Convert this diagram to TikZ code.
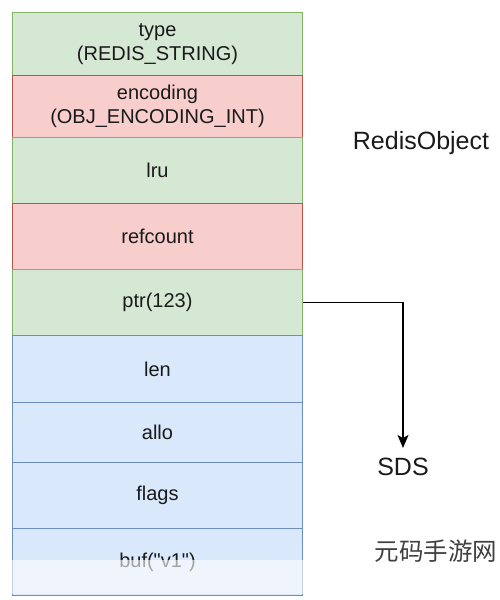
\documentclass[tikz,border=0pt]{standalone}
\usepackage{fontspec}
\setmainfont{Liberation Sans}
\newfontfamily\cjk{Noto Sans CJK SC}
\usetikzlibrary{arrows.meta}
\definecolor{gfill}{HTML}{D5E8D4}\definecolor{gline}{HTML}{82B366}
\definecolor{rfill}{HTML}{F8CECC}\definecolor{rline}{HTML}{B85450}
\definecolor{bfill}{HTML}{DAE8FC}\definecolor{bline}{HTML}{6C8EBF}
\definecolor{txt}{HTML}{1A1A1A}
\tikzset{
  cell/.style={draw, line width=1pt, anchor=north west, minimum width=290pt,
    inner sep=0pt, align=center, text=txt, font=\fontsize{20}{23.5}\selectfont},
  gcell/.style={cell, fill=gfill, draw=gline},
  rcell/.style={cell, fill=rfill, draw=rline},
  bcell/.style={cell, fill=bfill, draw=bline},
  lbl/.style={text=txt, inner sep=0pt, font=\fontsize{25}{29}\selectfont},
  link/.style={draw=black, line width=1.3pt, -{Stealth[length=13pt,width=11pt,inset=3pt]}}
}
\begin{document}
\begin{tikzpicture}[x=1pt,y=-1pt]
\useasboundingbox (0,0) rectangle (499,600);
\node[gcell, minimum height=63pt] (type) at (12,12) {type\\(REDIS\_STRING)};
\node[rcell, minimum height=62pt] (enc) at (12,75) {encoding\\(OBJ\_ENCODING\_INT)};
\node[gcell, minimum height=66pt] (lru) at (12,137) {lru};
\node[rcell, minimum height=66pt] (ref) at (12,203) {refcount};
\node[gcell, minimum height=66pt] (ptr) at (12,269) {ptr(123)};
\node[bcell, minimum height=67pt] (len) at (12,335) {len};
\node[bcell, minimum height=60pt] (allo) at (12,402) {allo};
\node[bcell, minimum height=66pt] (flags) at (12,462) {flags};
\node[bcell, minimum height=67pt] (buf) at (12,528) {buf(\textquotedbl v1\textquotedbl)};
\node[lbl] (robj) at (421,143) {RedisObject};
\node[lbl, anchor=north] (sds) at (403,458) {SDS};
\draw[link, shorten >=10pt] (ptr.east) -| (sds.north);
\fill[white, opacity=0.6] (10,560) rectangle (304,594);
\node[text=black!75, inner sep=0pt, font=\cjk\fontsize{24.5}{27}\selectfont] (wm) at (436,551) {元码手游网};
\end{tikzpicture}
\end{document}
